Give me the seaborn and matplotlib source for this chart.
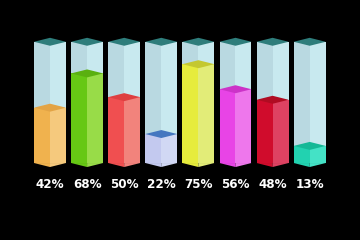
import numpy as np
import pandas as pd
import matplotlib
matplotlib.use("Agg")
import matplotlib.pyplot as plt
import seaborn as sns

# ---- data ----
categories = ["A", "B", "C", "D", "E", "F", "G", "H"]
values = [42, 68, 50, 22, 75, 56, 48, 13]
labels = ["42%", "68%", "50%", "22%", "75%", "56%", "48%", "13%"]
left_colors = ["#f0b24e", "#66c814", "#f04f50", "#c3c9ef", "#e6ec3c", "#e844e6", "#d00c2c", "#22d2b0"]
right_colors = ["#f5c97d", "#98dc48", "#f2837c", "#d1d8f4", "#e2ec78", "#ee77ec", "#de4262", "#44e2c6"]
top_colors = ["#e3a445", "#5ab010", "#de3f40", "#4577c0", "#c4c830", "#cc33c8", "#b00c22", "#14b896"]

# ---- style ----
CAP = 92.0          # container height in value units
HW = 0.431          # half width of prism in category units
D = 3.03            # half height of top rhombus in value units
glass_left, glass_right, glass_top = "#b9d9e1", "#c8e9ef", "#2e7d7b"

sns.set_style("dark")
fig = plt.figure(figsize=(3.6, 2.4), dpi=100, facecolor="black")
ax = fig.add_axes([0, 0, 1, 1])
ax.set_facecolor("black")

n = len(categories)
glass_df = pd.DataFrame({
    "cat": categories * 2,
    "val": [CAP] * n * 2,
    "face": ["left"] * n + ["right"] * n,
})
sns.barplot(data=glass_df, x="cat", y="val", hue="face", order=categories,
            hue_order=["left", "right"], dodge=True, width=2 * HW, gap=0,
            palette={"left": glass_left, "right": glass_right},
            legend=False, ax=ax, saturation=1, linewidth=0)
n_glass = len(ax.patches)

fill_df = pd.DataFrame({
    "cat": categories * 2,
    "val": values * 2,
    "face": ["left"] * n + ["right"] * n,
})
sns.barplot(data=fill_df, x="cat", y="val", hue="face", order=categories,
            hue_order=["left", "right"], dodge=True, width=2 * HW, gap=0,
            palette={"left": "#888888", "right": "#aaaaaa"},
            legend=False, ax=ax, saturation=1, linewidth=0)

for p in ax.patches[n_glass:]:
    cx = p.get_x() + p.get_width() / 2
    i = int(round(cx))
    if cx < i:
        p.set_facecolor(left_colors[i])
    else:
        p.set_facecolor(right_colors[i])

for i, v in enumerate(values):
    c = i
    ax.fill([c - HW, c, c], [0, -D, 0], color=left_colors[i], lw=0, zorder=3)
    ax.fill([c, c + HW, c], [-D, 0, 0], color=right_colors[i], lw=0, zorder=3)
    ax.fill([c - HW, c, c + HW, c], [v, v + D, v, v - D], color=top_colors[i], lw=0, zorder=3)
    ax.fill([c - HW, c, c + HW, c], [CAP, CAP + D, CAP, CAP - D], color=glass_top, lw=0, zorder=3)
    ax.text(c, -16, labels[i], color="white", ha="center", va="center",
            fontsize=9.5, fontweight="bold", fontstretch="condensed",
            family=["DejaVu Sans"])

ax.set_xlim(-1.348, 8.356)
ax.set_ylim(-58.4, 123.7)
ax.axis("off")
fig.savefig("out.png", dpi=100, facecolor="black")
